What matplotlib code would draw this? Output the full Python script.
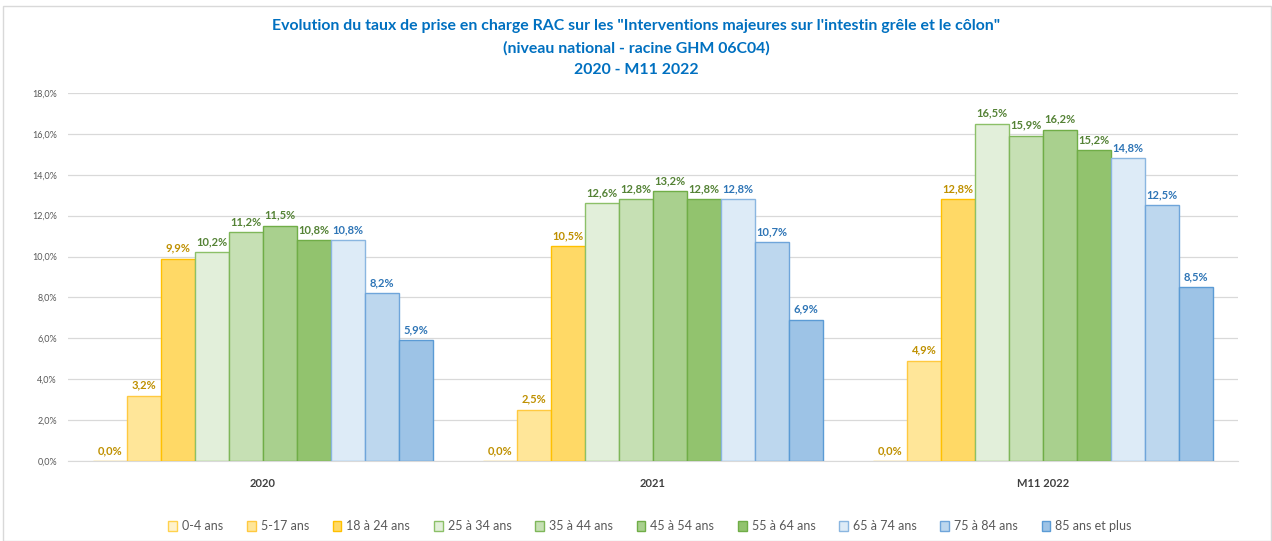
import matplotlib
matplotlib.use("Agg")
import matplotlib.pyplot as plt
from matplotlib.patches import Rectangle
import numpy as np

categories = ["2020", "2021", "M11 2022"]
series = ["0-4 ans", "5-17 ans", "18 à 24 ans", "25 à 34 ans", "35 à 44 ans",
          "45 à 54 ans", "55 à 64 ans", "65 à 74 ans", "75 à 84 ans", "85 ans et plus"]
values = [
    [0.0, 0.0, 0.0],      # 0-4
    [3.2, 2.5, 4.9],      # 5-17
    [9.9, 10.5, 12.8],    # 18-24
    [10.2, 12.6, 16.5],   # 25-34
    [11.2, 12.8, 15.9],   # 35-44
    [11.5, 13.2, 16.2],   # 45-54
    [10.8, 12.8, 15.2],   # 55-64
    [10.8, 12.8, 14.8],   # 65-74
    [8.2, 10.7, 12.5],    # 75-84
    [5.9, 6.9, 8.5],      # 85+
]
ticks = [0, 2, 4, 6, 8, 10, 12, 14, 16, 18]

fills = ["#FFF2CC", "#FFE699", "#FFD966", "#E2EFDA", "#C6E0B4", "#A9D08E",
         "#92C36E", "#DDEBF7", "#BDD7EE", "#9DC3E6"]
edges = ["#FFD24D", "#FFC940", "#FFC000", "#8CC068", "#7FB75A", "#70AD47",
         "#70AD47", "#8AB6E0", "#6FA5DA", "#5B9BD5"]
lblc = ["#BF9000"] * 3 + ["#548235"] * 4 + ["#2E75B6"] * 3

fig = plt.figure(figsize=(12.72, 5.41), dpi=100)
fig.patches.append(Rectangle((3 / 1272, 0.0), 1 - 4 / 1272, 1 - 6 / 541,
                             transform=fig.transFigure, fill=False,
                             edgecolor="#D9D9D9", linewidth=1.0))
ax = fig.add_axes([68 / 1272, 1 - 461 / 541, (1238 - 68) / 1272, (461 - 93) / 541])

font = "Lato"
n = len(series)
bw = 0.0872
x = np.arange(len(categories))
for i in range(n):
    pos = x + (i - (n - 1) / 2) * bw
    vals = np.array(values[i]) / 100
    ax.bar(pos, vals, width=bw, color=fills[i], edgecolor=edges[i], linewidth=1.0,
           label=series[i], zorder=3)
    for p, v in zip(pos, values[i]):
        ax.text(p, v / 100 + 0.0025, f"{v:.1f}%".replace(".", ","), ha="center",
                va="bottom", fontsize=8, fontweight="bold", color=lblc[i],
                family=font, zorder=4)

ax.set_xlim(-0.5, len(categories) - 0.5)
ax.set_ylim(0, 0.18)
ax.set_yticks([t / 100 for t in ticks])
ax.set_yticklabels([f"{t:.1f}%".replace(".", ",") for t in ticks], fontsize=6.5,
                   color="#595959", family=font)
ax.set_xticks(x)
ax.set_xticklabels(categories, fontsize=8, fontweight="bold", color="#404040", family=font)
ax.tick_params(axis="both", length=0, pad=8)
ax.tick_params(axis="x", pad=12)
ax.grid(axis="y", color="#D9D9D9", linewidth=0.9, zorder=0)
for s in ["top", "right", "left"]:
    ax.spines[s].set_visible(False)
ax.spines["bottom"].set_color("#D9D9D9")

title_lines = ["Evolution du taux de prise en charge RAC sur les \"Interventions majeures sur l'intestin grêle et le côlon\"",
               "(niveau national - racine GHM 06C04)",
               "2020 - M11 2022"]
for line, y in zip(title_lines, [26, 48, 70]):
    fig.text(0.5, 1 - y / 541, line, ha="center", va="center", fontsize=11.4,
             fontweight="bold", color="#0070C0", family=font)

leg = fig.legend(loc="center", bbox_to_anchor=(650 / 1272, 1 - 526 / 541), ncol=n,
                 frameon=False, handlelength=0.7, handleheight=0.9,
                 handletextpad=0.4, columnspacing=1.9, prop={"family": font, "size": 9})
for t in leg.get_texts():
    t.set_color("#595959")

fig.savefig("out.png", dpi=100)
